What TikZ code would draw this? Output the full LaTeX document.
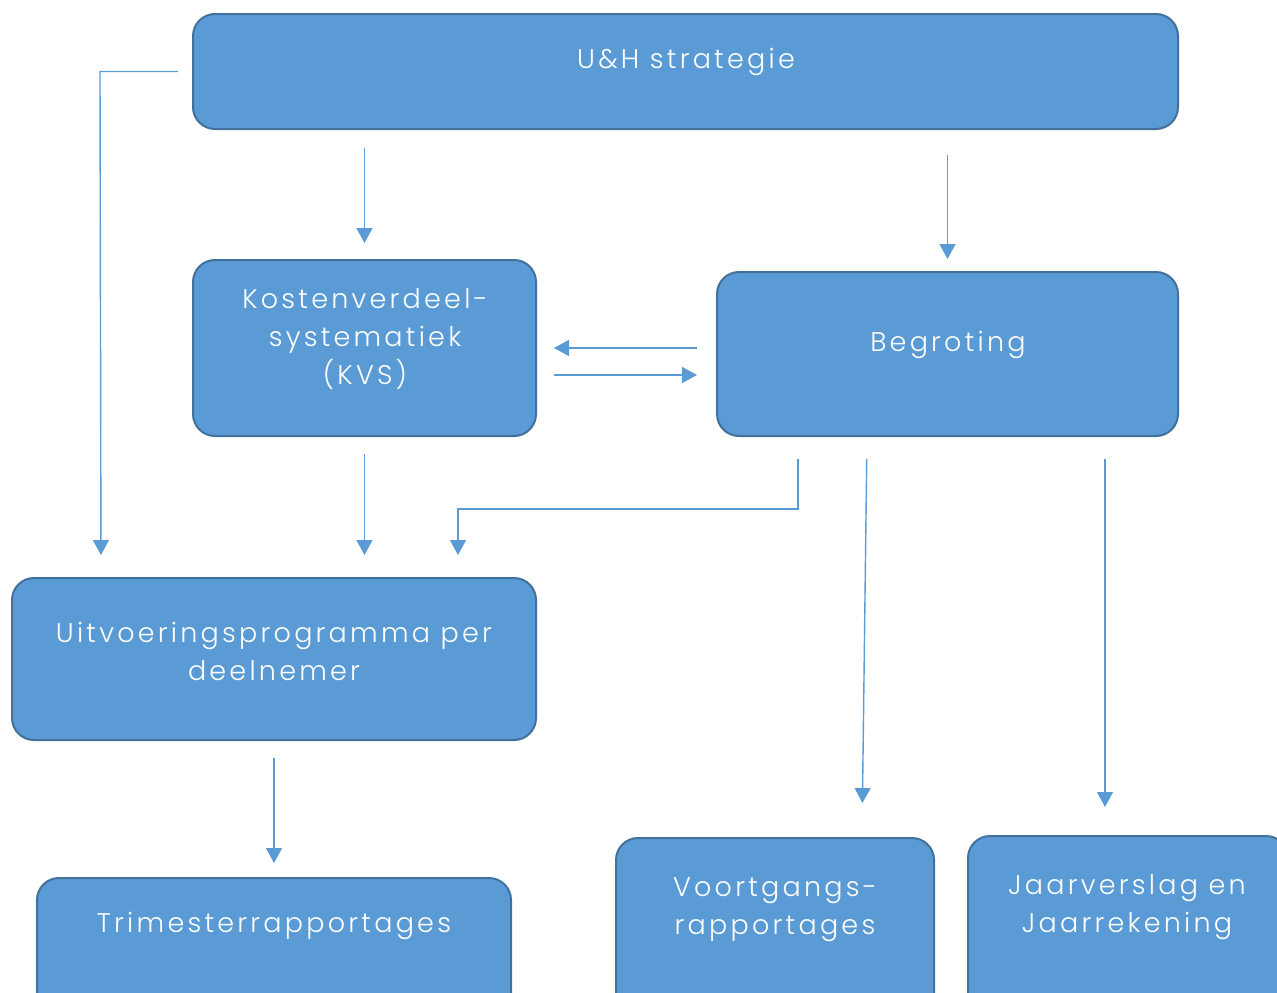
\documentclass[tikz,border=0pt]{standalone}
\usepackage{fontspec}
\setmainfont{Poppins}[UprightFont={* Light}, LetterSpace=12]
\usetikzlibrary{arrows.meta}
\definecolor{boxblue}{HTML}{5B9BD5}
\definecolor{boxedge}{HTML}{41719C}
\begin{document}
\begin{tikzpicture}[x=1pt, y=-1pt,
            box/.style={draw=boxedge, line width=2pt, fill=boxblue, rounded corners=22pt, inner sep=0pt},
            txt/.style={text=white, align=center, font=\fontsize{27}{38}\selectfont},
            flow/.style={draw=boxblue, line width=1.4pt, -{Triangle[length=15pt,width=16pt]}}]
            \useasboundingbox (0,0) rectangle (1277,993);
            % boxes
            \node [box, minimum width=985pt, minimum height=115pt] (uh) at (685.5, 71.5) {};
            \node [box, minimum width=343pt, minimum height=176pt] (kvs) at (364.5, 348) {};
            \node [box, minimum width=461pt, minimum height=164pt] (begr) at (947.5, 354) {};
            \node [box, minimum width=524pt, minimum height=162pt] (uitv) at (274, 659) {};
            \node [box, minimum width=474pt, minimum height=160pt] (trim) at (274, 958) {};
            \node [box, minimum width=318pt, minimum height=200pt] (voort) at (775, 938) {};
            \node [box, minimum width=320pt, minimum height=200pt] (jaar) at (1128, 936) {};
            % texts
            \node [txt] (uh-t) at (686, 62) {U\&H strategie};
            \node [txt] (kvs-t) at (365, 339) {Kostenverdeel-\\systematiek\\(KVS)};
            \node [txt] (begr-t) at (948, 345) {Begroting};
            \node [txt] (uitv-t) at (274, 651) {Uitvoeringsprogramma per\\deelnemer};
            \node [txt] (trim-t) at (274, 926) {Trimesterrapportages};
            \node [txt] (voort-t) at (775, 910) {Voortgangs-\\rapportages};
            \node [txt] (jaar-t) at (1127, 907) {Jaarverslag en\\Jaarrekening};
            % connectors
            \draw [flow, shorten <=14pt, shorten >=22pt] (uh.west) -- ++(-92,0) -- (uitv.north -| 101,0);
            \draw [flow, shorten <=18pt, shorten >=16pt] (uh.south -| kvs.north) -- (kvs.north);
            \draw [flow, shorten <=25pt, shorten >=12pt] (uh.south -| begr.north) -- (begr.north);
            \draw [flow, shorten <=19pt, shorten >=17pt] (begr.west |- 0,348) -- (kvs.east |- 0,348);
            \draw [flow, shorten <=17pt, shorten >=19pt] (kvs.east |- 0,375) -- (begr.west |- 0,375);
            \draw [flow, shorten <=17pt, shorten >=22pt] (kvs.south) -- (kvs.south |- uitv.north);
            \draw [flow, shorten <=22pt, shorten >=22pt] (begr.south -| 798,0) -- ++(0,72) -| (uitv.north -| 458,0);
            \draw [flow, shorten <=22pt, shorten >=34pt] (begr.south -| 867,0) -- (voort.north -| 862,0);
            \draw [flow, shorten <=22pt, shorten >=28pt] (begr.south -| 1105,0) -- (jaar.north -| 1105,0);
            \draw [flow, shorten <=17pt, shorten >=14pt] (uitv.south) -- (trim.north);
        \end{tikzpicture}
\end{document}
